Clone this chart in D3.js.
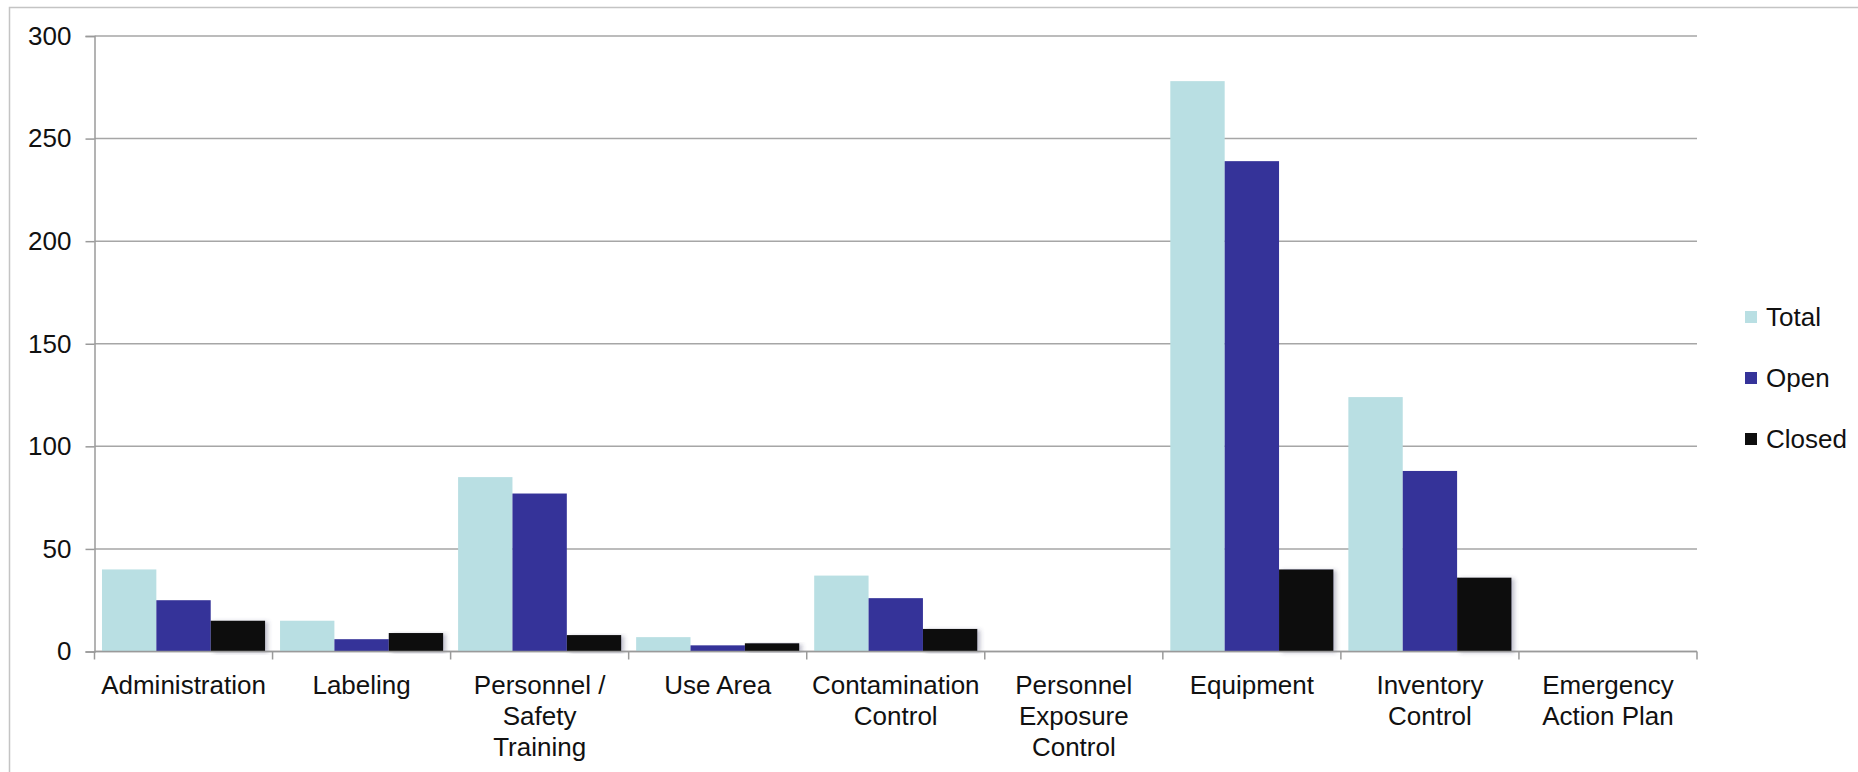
<!DOCTYPE html>
<html lang="en">
<head>
<meta charset="UTF-8">
<title>Findings by category</title>
<script src="https://cdn.jsdelivr.net/npm/d3@7"></script>
<style>
    body { margin: 0; background: #fff; }
    text { font-family: "Liberation Sans", Arial, sans-serif; fill: #111; }
</style>
</head>
<body>
<script>
// data
const categories = ["Administration", "Labeling", "Personnel / Safety Training", "Use Area",
    "Contamination Control", "Personnel Exposure Control", "Equipment", "Inventory Control",
    "Emergency Action Plan"];
const labelLines = [["Administration"], ["Labeling"], ["Personnel /", "Safety", "Training"], ["Use Area"],
    ["Contamination", "Control"], ["Personnel", "Exposure", "Control"], ["Equipment"],
    ["Inventory", "Control"], ["Emergency", "Action Plan"]];
const series = ["Total", "Open", "Closed"];
const totalValues = [40, 15, 85, 7, 37, 0, 278, 124, 0];
const openValues = [25, 6, 77, 3, 26, 0, 239, 88, 0];
const closedValues = [15, 9, 8, 4, 11, 0, 40, 36, 0];
const yTicks = [0, 50, 100, 150, 200, 250, 300];
const colors = ["#b9dfe3", "#353399", "#0e0e0e"];

var width = 1858, height = 772;
// plot area edges (note: "top" is taken by window.top)
var plotLeft = 94.5, plotRight = 1697, plotTop = 36, plotBottom = 651.5;

var svg = d3.select("body").append("svg")
    .attr("width", width)
    .attr("height", height);

// soft shadow to the right of bars
var defs = svg.append("defs");
defs.append("filter").attr("id", "shadow")
    .attr("x", "-10%").attr("y", "-10%").attr("width", "130%").attr("height", "120%")
    .append("feDropShadow")
    .attr("dx", 3).attr("dy", 1).attr("stdDeviation", 2)
    .attr("flood-color", "#4a4a70").attr("flood-opacity", 0.35);

// outer frame
svg.append("rect")
    .attr("x", 9.5).attr("y", 7.5)
    .attr("width", width + 20).attr("height", height + 20)
    .attr("fill", "none").attr("stroke", "#c4c4c4").attr("stroke-width", 1.5);

var x0 = d3.scaleBand()
    .domain(categories)
    .range([plotLeft, plotRight])
    .paddingInner(0.084)
    .paddingOuter(0.042);

var x1 = d3.scaleBand()
    .domain(series)
    .range([0, x0.bandwidth()]);

var y = d3.scaleLinear()
    .domain([0, 300])
    .range([plotBottom, plotTop]);

// gridlines
svg.append("g")
    .selectAll("line")
    .data(yTicks)
    .join("line")
    .attr("x1", plotLeft).attr("x2", plotRight)
    .attr("y1", d => y(d)).attr("y2", d => y(d))
    .attr("stroke", "#a6a6a6").attr("stroke-width", 1.5);

// y axis
var yAxis = svg.append("g")
    .attr("transform", "translate(" + plotLeft + ",0)")
    .call(d3.axisLeft(y).tickValues(yTicks).tickSize(9).tickPadding(14));
yAxis.select(".domain").attr("stroke", "#9a9a9a").attr("stroke-width", 1.5);
yAxis.selectAll(".tick line").attr("stroke", "#9a9a9a").attr("stroke-width", 1.5);
yAxis.selectAll(".tick text").attr("font-size", 26).attr("fill", "#111")
    .style("font-family", "'Liberation Sans', Arial, sans-serif");

// bars
var rows = categories.map((c, i) => ({
    cat: c,
    vals: [totalValues[i], openValues[i], closedValues[i]]
}));

svg.append("g")
    .selectAll("g")
    .data(rows)
    .join("g")
    .attr("transform", d => "translate(" + x0(d.cat) + ",0)")
    .selectAll("rect")
    .data(d => d.vals.map((v, j) => ({ key: series[j], value: v, idx: j })).filter(d => d.value > 0))
    .join("rect")
    .attr("x", d => x1(d.key))
    .attr("width", x1.bandwidth())
    .attr("y", d => y(d.value))
    .attr("height", d => y(0) - y(d.value))
    .attr("fill", d => colors[d.idx])
    .attr("filter", d => d.idx === 2 ? "url(#shadow)" : null);

// x axis line and boundary ticks
var xAxis = svg.append("g");
xAxis.append("line")
    .attr("x1", plotLeft).attr("x2", plotRight)
    .attr("y1", plotBottom).attr("y2", plotBottom)
    .attr("stroke", "#9a9a9a").attr("stroke-width", 1.5);
xAxis.selectAll(".bt")
    .data(d3.range(categories.length + 1))
    .join("line")
    .attr("class", "bt")
    .attr("x1", i => plotLeft + i * x0.step()).attr("x2", i => plotLeft + i * x0.step())
    .attr("y1", plotBottom).attr("y2", plotBottom + 8)
    .attr("stroke", "#9a9a9a").attr("stroke-width", 1.5);

// wrapped category labels
xAxis.selectAll(".lbl")
    .data(categories)
    .join("text")
    .attr("class", "lbl")
    .attr("text-anchor", "middle")
    .attr("font-size", 26)
    .attr("x", d => x0(d) + x0.bandwidth() / 2)
    .attr("y", 694)
    .each(function (d, i) {
        d3.select(this).selectAll("tspan")
            .data(labelLines[i])
            .join("tspan")
            .attr("x", x0(d) + x0.bandwidth() / 2)
            .attr("dy", (t, k) => k === 0 ? 0 : 30.8)
            .text(t => t);
    });

// legend
var legend = svg.append("g")
    .selectAll("g")
    .data(series)
    .join("g")
    .attr("transform", (d, i) => "translate(1745," + (317 + i * 61) + ")");
legend.append("rect")
    .attr("x", 0).attr("y", -6)
    .attr("width", 12).attr("height", 12)
    .attr("fill", (d, i) => colors[i]);
legend.append("text")
    .attr("x", 21).attr("y", 9)
    .attr("font-size", 26)
    .text(d => d);
</script>
</body>
</html>
